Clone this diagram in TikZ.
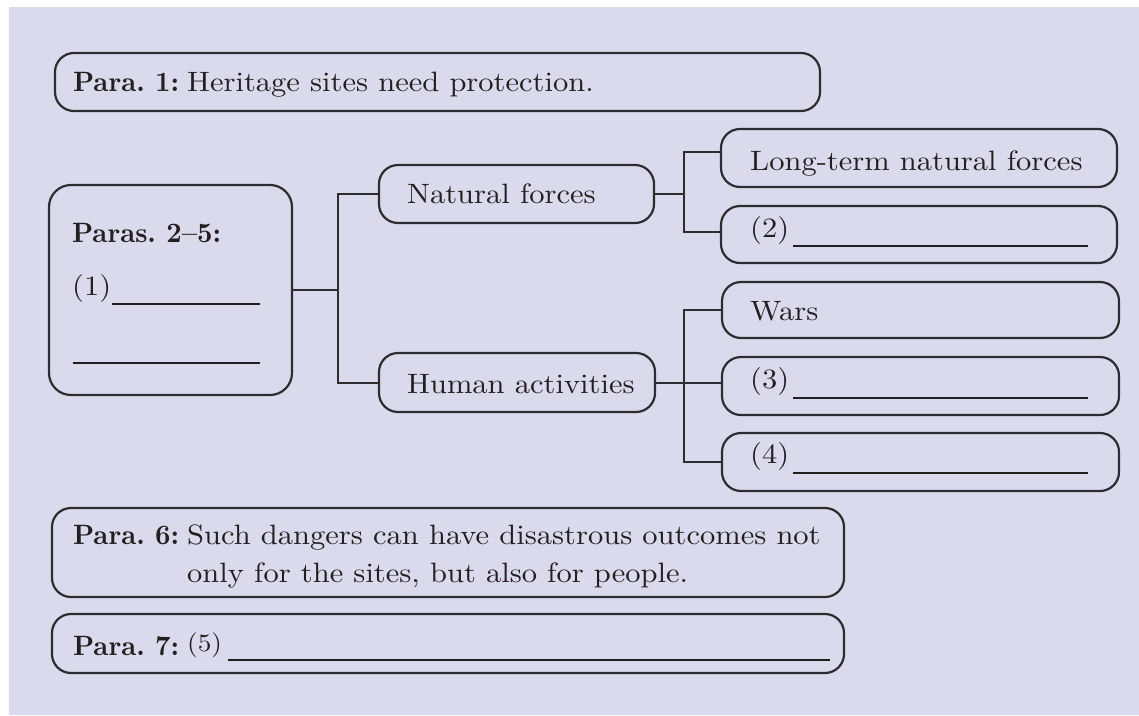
\documentclass[tikz,border=0pt]{standalone}
\usepackage{graphicx}
\usepackage{fontspec}
\setmainfont{lmroman10-regular.otf}[BoldFont=lmroman10-bold.otf]
\frenchspacing
\definecolor{bgc}{RGB}{219,218,236}
\definecolor{linec}{RGB}{45,45,48}
\definecolor{textc}{RGB}{35,31,32}
\newcommand{\rg}[1]{\scalebox{1.09}[1]{#1}}
\newcommand{\bd}[1]{\scalebox{0.96}[1]{\textbf{#1}}}
\tikzset{
  box/.style={draw=linec, line width=2.2pt, rounded corners=19pt, inner sep=0pt},
  conn/.style={draw=linec, line width=2pt},
  txt/.style={anchor=base west, inner sep=0pt, text=textc, font=\fontsize{28}{33}\selectfont},
  uline/.style={draw=textc, line width=1.1pt}
}
\begin{document}
\begin{tikzpicture}[x=1pt,y=-1pt]
\useasboundingbox (0,0) rectangle (1139,715);
\fill[white] (0,0) rectangle (1139,715);
\fill[bgc] (9,7) rectangle (1139,715);

% boxes
\node[box, minimum width=765pt, minimum height=58pt] (p1) at (437.5,82) {};
\node[box, minimum width=243pt, minimum height=210pt, rounded corners=22pt] (p25) at (170.5,290) {};
\node[box, minimum width=275pt, minimum height=58pt] (nf) at (516.5,194) {};
\node[box, minimum width=276pt, minimum height=59pt] (ha) at (517,382.5) {};
\node[box, minimum width=396pt, minimum height=58pt] (lt) at (919,158) {};
\node[box, minimum width=396pt, minimum height=57pt] (b2) at (919,234.5) {};
\node[box, minimum width=397pt, minimum height=56pt] (wars) at (920.5,310) {};
\node[box, minimum width=397pt, minimum height=58pt] (b3) at (920.5,386) {};
\node[box, minimum width=397pt, minimum height=58pt] (b4) at (920.5,462) {};
\node[box, minimum width=792pt, minimum height=89pt] (p6) at (448,552.5) {};
\node[box, minimum width=792pt, minimum height=59pt] (p7) at (448,643.5) {};

% connectors
\coordinate (j1) at (338,290);
\coordinate (j2) at (684,194);
\coordinate (j3) at (684,386);
\draw[conn] (p25.east) -- (j1);
\draw[conn] (nf.west) -- (nf.west -| j1) -- (ha.west -| j1) -- (ha.west);
\draw[conn] (nf.east) -- (j2);
\draw[conn] ([yshift=6pt]lt.west) -- ([yshift=6pt]lt.west -| j2) -- ([yshift=3pt]b2.west -| j2) -- ([yshift=3pt]b2.west);
\draw[conn] (ha.east) -- (ha.east -| b3.west);
\draw[conn] (wars.west) -- (wars.west -| j3) -- (b4.west -| j3) -- (b4.west);

% texts
\node[txt] (t1a) at (73,91) {\bd{Para. 1:}};
\node[txt] (t1b) at (187,91) {\rg{Heritage sites need protection.}};
\node[txt] (t25a) at (72,242) {\bd{Paras. 2--5:}};
\node[txt] (t25b) at (72,295) {\rg{(1)}};
\draw[uline] (112,304) -- (260,304);
\draw[uline] (73,363) -- (260,363);
\node[txt] (tnf) at (407,203) {\rg{Natural forces}};
\node[txt] (tha) at (407,393) {\rg{Human activities}};
\node[txt] (tlt) at (750,170) {\rg{Long-term natural forces}};
\node[txt] (tb2) at (750,237) {\rg{(2)}};
\draw[uline] (793,246) -- (1088,246);
\node[txt] (twars) at (750,320) {\rg{Wars}};
\node[txt] (tb3) at (750,388) {\rg{(3)}};
\draw[uline] (793,398) -- (1088,398);
\node[txt] (tb4) at (750,463) {\rg{(4)}};
\draw[uline] (793,473) -- (1088,473);
\node[txt] (t6a) at (73,544) {\bd{Para. 6:}};
\node[txt] (t6b) at (187,544) {\rg{Such dangers can have disastrous outcomes not}};
\node[txt] (t6c) at (187,582) {\rg{only for the sites, but also for people.}};
\node[txt] (t7a) at (73,655) {\bd{Para. 7:}};
\node[txt, font=\fontsize{25}{30}\selectfont] (t7b) at (187,651) {\rg{(5)}};
\draw[uline] (228,660) -- (830,660);
\end{tikzpicture}
\end{document}
